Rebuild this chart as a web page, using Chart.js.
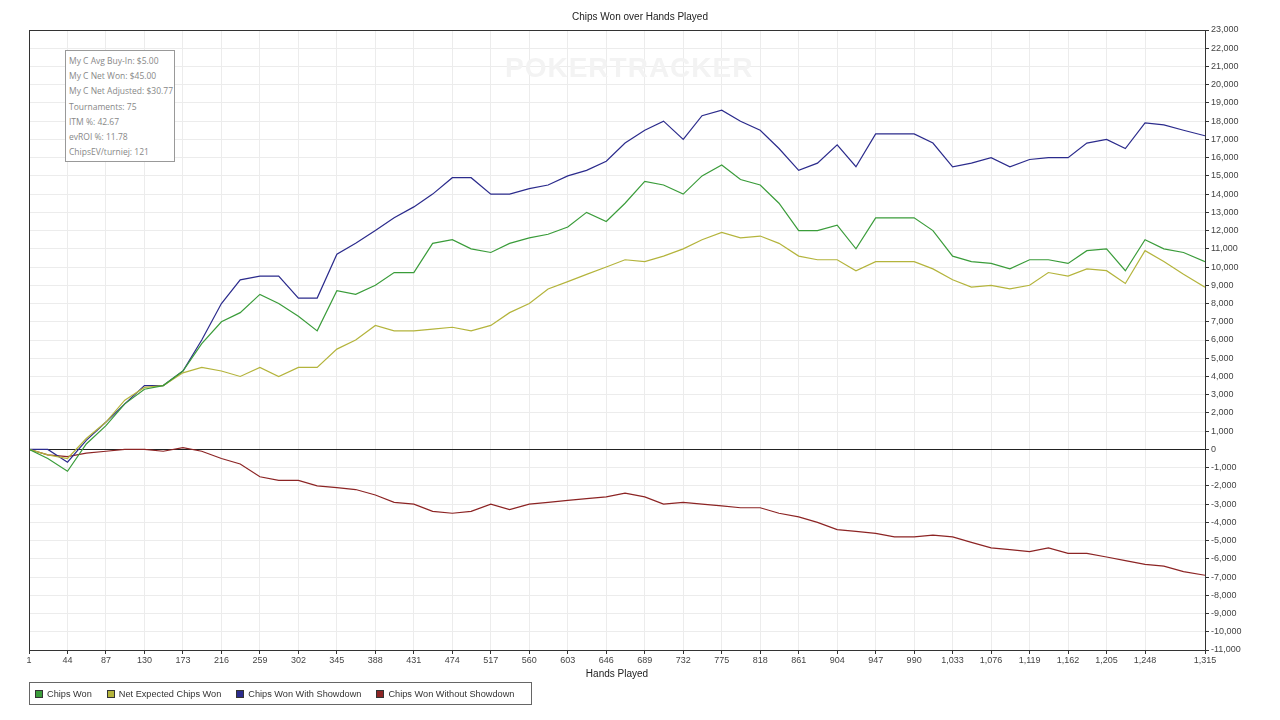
<!DOCTYPE html>
<html>
<head>
<meta charset="utf-8">
<script src="https://cdn.jsdelivr.net/npm/chart.js@4"></script>
<style>
	body { margin: 0; background: #fff; font-family: "Liberation Sans", Arial, sans-serif; }
	#wrap { position: relative; width: 1280px; height: 720px; }
	#title { position: absolute; top: 11px; left: 0; width: 1280px; text-align: center; font-size: 10px; color: #222; }
	#watermark { position: absolute; left: 505px; top: 52px; font-size: 28px; font-weight: bold; color: #f3f3f3; letter-spacing: 1px; }
	#info { position: absolute; left: 65px; top: 50px; width: 110px; height: 112px; border: 1px solid #999; background: #fff; font-family: "Open Sans", sans-serif; font-size: 8.5px; color: #888; padding: 2px 0 0 3px; box-sizing: border-box; line-height: 15.2px; white-space: nowrap; overflow: hidden; }
	#legend { position: absolute; left: 29px; top: 682px; width: 503px; height: 23px; border: 1px solid #666; box-sizing: border-box; font-size: 9.2px; color: #333; display: flex; align-items: center; padding-left: 5px; white-space: nowrap; overflow: hidden; }
	#legend span.item { margin-right: 15px; display: flex; align-items: center; }
	#legend span.box { width: 6px; height: 6px; border: 1px solid #333; display: inline-block; margin-right: 4px; flex: none; }
</style>
</head>
<body>
<div id="wrap">
	<canvas id="chips" width="1280" height="720"></canvas>
	<div id="watermark">POKERTRACKER</div>
	<div id="title">Chips Won over Hands Played</div>
	<div id="info">
		My C Avg Buy-In: $5.00<br>My C Net Won: $45.00<br>My C Net Adjusted: $30.77<br>Tournaments: 75<br>ITM %: 42.67<br>evROI %: 11.78<br>ChipsEV/turniej: 121
	</div>
	<div id="legend"></div>
</div>
<script>
const hands = [1, 22, 44, 65, 87, 108, 130, 151, 173, 194, 216, 237, 259, 280, 302, 323, 345, 366, 388, 409, 431, 452, 474, 495, 517, 538, 560, 581, 603, 624, 646, 667, 689, 710, 732, 753, 775, 796, 818, 839, 861, 882, 904, 925, 947, 968, 990, 1011, 1033, 1054, 1076, 1097, 1119, 1140, 1162, 1183, 1205, 1226, 1248, 1269, 1291, 1315]
const chipsWon = [0, -500, -1200, 300, 1300, 2500, 3300, 3500, 4300, 5800, 7000, 7500, 8500, 8000, 7300, 6500, 8700, 8500, 9000, 9700, 9700, 11300, 11500, 11000, 10800, 11300, 11600, 11800, 12200, 13000, 12500, 13500, 14700, 14500, 14000, 15000, 15600, 14800, 14500, 13500, 12000, 12000, 12300, 11000, 12700, 12700, 12700, 12000, 10600, 10300, 10200, 9900, 10400, 10400, 10200, 10900, 11000, 9800, 11500, 11000, 10800, 10300]
const netExpected = [0, -300, -500, 600, 1500, 2700, 3400, 3500, 4200, 4500, 4300, 4000, 4500, 4000, 4500, 4500, 5500, 6000, 6800, 6500, 6500, 6600, 6700, 6500, 6800, 7500, 8000, 8800, 9200, 9600, 10000, 10400, 10300, 10600, 11000, 11500, 11900, 11600, 11700, 11300, 10600, 10400, 10400, 9800, 10300, 10300, 10300, 9900, 9300, 8900, 9000, 8800, 9000, 9700, 9500, 9900, 9800, 9100, 10900, 10300, 9600, 8900]
const withShowdown = [0, 0, -700, 500, 1500, 2500, 3500, 3500, 4300, 6000, 8000, 9300, 9500, 9500, 8300, 8300, 10700, 11300, 12000, 12700, 13300, 14000, 14900, 14900, 14000, 14000, 14300, 14500, 15000, 15300, 15800, 16800, 17500, 18000, 17000, 18300, 18600, 18000, 17500, 16500, 15300, 15700, 16700, 15500, 17300, 17300, 17300, 16800, 15500, 15700, 16000, 15500, 15900, 16000, 16000, 16800, 17000, 16500, 17900, 17800, 17500, 17200]
const withoutShowdown = [0, -300, -400, -200, -100, 0, 0, -100, 100, -100, -500, -800, -1500, -1700, -1700, -2000, -2100, -2200, -2500, -2900, -3000, -3400, -3500, -3400, -3000, -3300, -3000, -2900, -2800, -2700, -2600, -2400, -2600, -3000, -2900, -3000, -3100, -3200, -3200, -3500, -3700, -4000, -4400, -4500, -4600, -4800, -4800, -4700, -4800, -5100, -5400, -5500, -5600, -5400, -5700, -5700, -5900, -6100, -6300, -6400, -6700, -6900]
const xTicks = [1, 44, 87, 130, 173, 216, 259, 302, 345, 388, 431, 474, 517, 560, 603, 646, 689, 732, 775, 818, 861, 904, 947, 990, 1033, 1076, 1119, 1162, 1205, 1248, 1315]

const seriesNames = ["Chips Won", "Net Expected Chips Won", "Chips Won With Showdown", "Chips Won Without Showdown"]
const seriesColors = ["#3a9c3a", "#b4b43c", "#2b2b8c", "#8c2424"]
const seriesData = [chipsWon, netExpected, withShowdown, withoutShowdown]

//legend
let legend = document.getElementById("legend")
seriesNames.forEach((name, i) => {
	legend.innerHTML += "<span class='item'><span class='box' style='background:" + seriesColors[i] + "'></span>" + name + "</span>"
})

const frame = {
	id: "frame",
	afterDraw(chart) {
		const a = chart.chartArea, c = chart.ctx
		c.save()
		c.strokeStyle = "#333"
		c.lineWidth = 1
		c.strokeRect(a.left + 0.5, a.top + 0.5, a.right - a.left, a.bottom - a.top)
		c.restore()
	}
}

new Chart(document.getElementById("chips"), {
	type: "line",
	data: {
		datasets: seriesData.map((d, i) => ({
			label: seriesNames[i],
			data: d.map((v, j) => ({ x: hands[j], y: v })),
			borderColor: seriesColors[i],
			borderWidth: 1.2,
			pointRadius: 0,
			tension: 0
		}))
	},
	options: {
		responsive: false,
		animation: false,
		layout: { padding: { left: 29, right: 25, top: 30, bottom: 40 } },
		plugins: { legend: { display: false }, tooltip: { enabled: false } },
		scales: {
			x: {
				type: "linear",
				min: 1,
				max: 1315,
				afterBuildTicks: axis => { axis.ticks = xTicks.map(v => ({ value: v })) },
				afterFit: axis => { axis.height = 30 },
				grid: { color: "#ececec", drawTicks: true, tickLength: 4, tickColor: "#333" },
				border: { color: "#333" },
				ticks: { color: "#444", font: { size: 9 }, padding: 1, maxRotation: 0, autoSkip: false, callback: v => v.toLocaleString("en-US") },
				title: { display: true, text: "Hands Played", color: "#222", font: { size: 10 }, padding: 0 }
			},
			y: {
				position: "right",
				min: -11000,
				max: 23000,
				afterFit: axis => { axis.width = 50 },
				grid: { color: ctx => ctx.tick.value === 0 ? "#222" : "#ececec", tickLength: 4, tickColor: "#333" },
				border: { color: "#333" },
				ticks: { stepSize: 1000, color: "#444", font: { size: 9 }, padding: 2, autoSkip: false, callback: v => v.toLocaleString("en-US") }
			}
		}
	},
	plugins: [frame]
})
</script>
</body>
</html>
